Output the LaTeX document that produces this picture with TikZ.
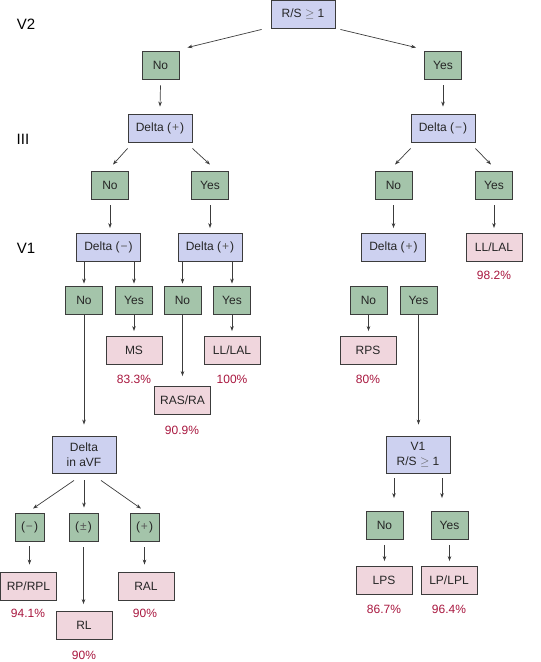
\documentclass[tikz,border=0pt]{standalone}
\usepackage{fontspec}
\setmainfont{Liberation Sans}
\usetikzlibrary{arrows.meta}
\definecolor{gbox}{RGB}{164,196,170}
\definecolor{lbox}{RGB}{205,209,240}
\definecolor{pbox}{RGB}{240,214,221}
\definecolor{edge}{RGB}{60,60,60}
\definecolor{pct}{RGB}{168,22,62}
\newcommand{\sy}[1]{(\kern1pt\textcolor{black!65}{#1}\kern1pt)}
\tikzset{
  base/.style={draw=edge,line width=0.9pt,inner sep=0pt,minimum height=28pt,font=\fontsize{12}{14}\selectfont,text=black!85},
  yn/.style={base,fill=gbox,minimum width=37pt},
  sg/.style={base,fill=gbox,minimum width=29pt},
  q/.style={base,fill=lbox,minimum width=64pt},
  qq/.style={base,fill=lbox,minimum width=64pt,minimum height=37pt,align=center,font=\fontsize{12}{15}\selectfont},
  res/.style={base,fill=pbox,minimum width=56pt},
  pc/.style={inner sep=0pt,text=pct,font=\fontsize{12}{14}\selectfont},
  lead/.style={inner sep=0pt,font=\fontsize{15}{18}\selectfont},
  arr/.style={draw=edge,line width=0.7pt,-{Stealth[length=5pt,width=3.6pt]}},
}
\begin{document}
\begin{tikzpicture}[x=1pt,y=-1pt]
\useasboundingbox (0,0) rectangle (541,662);
% lead labels
\node[lead] (lV2) at (26,24) {V2};
\node[lead] (lIII) at (23,139) {III};
\node[lead] (lV1) at (26,248) {V1};
% level 1
\node[q] (rs) at (303,14) {R/S \textcolor{black!65}{$\geq$} 1};
\node[yn] (no1) at (160.5,65) {No};
\node[yn] (yes1) at (443,65) {Yes};
% level 2
\node[q] (d1) at (160,128) {Delta \sy{+}};
\node[q] (d1r) at (443,128) {Delta \sy{−}};
\node[yn] (no3a) at (110,185) {No};
\node[yn] (yes3a) at (210,185) {Yes};
\node[yn] (no3b) at (393.5,185) {No};
\node[yn] (yes3b) at (494,185) {Yes};
% level 3
\node[q] (d2a) at (108.5,247.5) {Delta \sy{−}};
\node[q] (d2b) at (210,247.5) {Delta \sy{+}};
\node[q] (d2c) at (393.5,247.5) {Delta \sy{+}};
\node[res] (ll1) at (494,247.5) {LL/LAL};
\node[pc] (p1) at (494,275) {98.2\%};
\node[yn] (n5a) at (84,300) {No};
\node[yn] (y5a) at (134,300) {Yes};
\node[yn] (n5b) at (182.5,300) {No};
\node[yn] (y5b) at (232,300) {Yes};
\node[yn] (n5c) at (368.5,300) {No};
\node[yn] (y5c) at (418.5,300) {Yes};
\node[res] (ms) at (134,350.5) {MS};
\node[res] (ll2) at (232,350.5) {LL/LAL};
\node[res] (rps) at (368,350.5) {RPS};
\node[pc] (p2) at (134,379) {83.3\%};
\node[pc] (p3) at (232,379) {100\%};
\node[pc] (p4) at (368,379) {80\%};
\node[res] (ras) at (182.5,400.5) {RAS/RA};
\node[pc] (p5) at (182,430) {90.9\%};
% aVF
\node[qq] (dvf) at (84,454.5) {Delta\\in aVF};
\node[sg] (sm) at (29.5,527) {\sy{−}};
\node[sg] (spm) at (83.5,527) {\sy{±}};
\node[sg] (sp) at (144.5,527) {\sy{+}};
\node[res] (rp) at (28.5,586) {RP/RPL};
\node[res] (ral) at (146,586) {RAL};
\node[res] (rl) at (84,625.5) {RL};
\node[pc] (p6) at (28,613) {94.1\%};
\node[pc] (p7) at (145,613) {90\%};
\node[pc] (p8) at (84,655) {90\%};
% V1 R/S
\node[qq] (v1rs) at (418,454.5) {V1\\R/S \textcolor{black!65}{$\geq$} 1};
\node[yn] (no7) at (384.5,525.5) {No};
\node[yn] (yes7) at (449.5,525.5) {Yes};
\node[res] (lps) at (384,580.5) {LPS};
\node[res] (lpl) at (449,580.5) {LP/LPL};
\node[pc] (p9) at (384,609) {86.7\%};
\node[pc] (p10) at (449,609) {96.4\%};
% connectors
\draw[arr] ([xshift=-9pt,yshift=-1pt]rs.south west) -- ([xshift=8pt,yshift=3pt]no1.north east);
\draw[arr] ([xshift=5pt,yshift=-1pt]rs.south east) -- ([xshift=-8pt,yshift=3pt]yes1.north west);
\draw[arr] ([yshift=-6pt]no1.south) -- ([yshift=7pt]d1.north);
\draw[arr] ([yshift=-6pt]yes1.south) -- ([yshift=7pt]d1r.north);
\draw[arr] ([yshift=-6pt]d1.south west) -- ([xshift=3pt,yshift=6pt]no3a.north);
\draw[arr] ([yshift=-6pt]d1.south east) -- ([yshift=6pt]yes3a.north);
\draw[arr] ([yshift=-6pt]d1r.south west) -- ([xshift=1.5pt,yshift=6pt]no3b.north);
\draw[arr] ([yshift=-6pt]d1r.south east) -- ([xshift=-3pt,yshift=6pt]yes3b.north);
\draw[arr] ([yshift=-6pt]no3a.south) -- ([yshift=5pt]no3a.south |- d2a.north);
\draw[arr] ([yshift=-6pt]yes3a.south) -- ([yshift=5pt]d2b.north);
\draw[arr] ([yshift=-6pt]no3b.south) -- ([yshift=5pt]d2c.north);
\draw[arr] ([yshift=-6pt]yes3b.south) -- ([yshift=5pt]ll1.north);
\draw[arr] (d2a.south -| n5a.north) -- ([yshift=2pt]n5a.north);
\draw[arr] (d2a.south -| y5a.north) -- ([yshift=2pt]y5a.north);
\draw[arr] (d2b.south -| n5b.north) -- ([yshift=2pt]n5b.north);
\draw[arr] (d2b.south -| y5b.north) -- ([yshift=2pt]y5b.north);
\draw[arr] (y5a.south) -- ([yshift=5pt]ms.north);
\draw[arr] (y5b.south) -- ([yshift=5pt]ll2.north);
\draw[arr] (n5c.south) -- ([yshift=5pt]n5c.south |- rps.north);
\draw[arr] (n5b.south) -- ([yshift=10pt]ras.north);
\draw[arr] (n5a.south) -- ([yshift=11pt]dvf.north);
\draw[arr] (y5c.south) -- ([yshift=11pt]y5c.south |- v1rs.north);
\draw[arr] ([xshift=-10pt,yshift=-7pt]dvf.south) -- ([xshift=3.5pt,yshift=4pt]sm.north);
\draw[arr] ([yshift=-7pt]dvf.south) -- ([yshift=5pt]dvf.south |- spm.north);
\draw[arr] ([xshift=17pt,yshift=-7pt]dvf.south) -- ([xshift=-3.5pt,yshift=4pt]sp.north);
\draw[arr] ([yshift=-5pt]sm.south) -- ([yshift=7pt]sm.south |- rp.north);
\draw[arr] ([yshift=-6pt]spm.south) -- ([yshift=7pt]spm.south |- rl.north);
\draw[arr] ([yshift=-6pt]sp.south) -- ([yshift=7pt]sp.south |- ral.north);
\draw[arr] ([xshift=-24pt,yshift=-5pt]v1rs.south) -- ([xshift=-24pt,yshift=13pt]v1rs.south |- no7.north);
\draw[arr] ([xshift=24pt,yshift=-5pt]v1rs.south) -- ([xshift=24pt,yshift=13pt]v1rs.south |- yes7.north);
\draw[arr] ([yshift=-5pt]no7.south) -- ([yshift=5pt]no7.south |- lps.north);
\draw[arr] ([yshift=-5pt]yes7.south) -- ([yshift=5pt]yes7.south |- lpl.north);
\end{tikzpicture}
\end{document}
